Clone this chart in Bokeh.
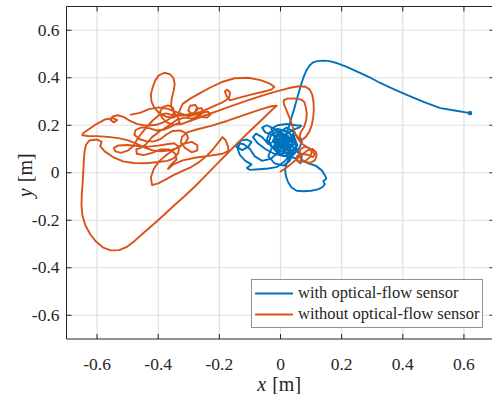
import math

from bokeh.plotting import figure
from bokeh.models import Range1d, Legend, LegendItem, Label
from bokeh.core.properties import value
from bokeh.embed import file_html
from bokeh.resources import INLINE

# ---- data -----------------------------------------------------------------
tick_values = [-0.6, -0.4, -0.2, 0, 0.2, 0.4, 0.6]
tick_labels = ["-0.6", "-0.4", "-0.2", "0", "0.2", "0.4", "0.6"]
axis_limits = [-0.7, 0.7]

series_names = ["with optical-flow sensor", "without optical-flow sensor"]

# trajectory with the optical-flow sensor (starts at the right, then hovers)
with_x = [
    0.620, 0.570, 0.523, 0.470, 0.413, 0.370, 0.326, 0.290, 0.249, 0.215,
    0.184, 0.160, 0.140, 0.120, 0.107, 0.095, 0.086, 0.077, 0.069, 0.061,
    0.053, 0.045, 0.037, 0.030, 0.024,
    0.018, 0.005, -0.010, -0.030, -0.045, -0.035, -0.010, 0.020, 0.045, 0.055,
    0.040, 0.010, -0.020, -0.050, -0.075, -0.090, -0.080, -0.060, -0.040, -0.010,
    0.015, 0.040, 0.060, 0.068, 0.050, 0.020, -0.010, -0.030, -0.020, 0.000,
    0.030, 0.060, 0.070, 0.050, 0.020, -0.005, -0.030, -0.060, -0.085, -0.100,
    -0.120, -0.140, -0.145, -0.125, -0.105, -0.095, -0.110, -0.130,
    -0.140, -0.133, -0.115, -0.095, -0.110, -0.100, -0.070, -0.040, -0.010, 0.010,
    0.030, 0.050, 0.065, 0.070, 0.060, 0.030, 0.000, -0.025, -0.050, -0.060,
    -0.045, -0.020, 0.010, 0.035, 0.045, 0.030, 0.010, -0.020, -0.040, -0.030,
    -0.010, 0.020, 0.040, 0.060, 0.072,
    0.090, 0.115, 0.135, 0.145, 0.150, 0.140, 0.145, 0.138, 0.122, 0.100,
    0.075, 0.053, 0.036, 0.025, 0.018, 0.015, 0.020,
    0.035, 0.020, -0.005, -0.025, -0.010, 0.020, 0.045, 0.030, 0.005, -0.015,
    0.000, 0.025, 0.040, 0.025, 0.000, -0.020, 0.005, 0.030, 0.050, 0.040,
    0.010, -0.005, 0.010, 0.030, 0.020, 0.005,
    0.015, 0.035, 0.052, 0.048, 0.030, 0.012, -0.008, -0.020, -0.012, 0.008,
    0.028, 0.040, 0.036, 0.018, -0.002, -0.018, -0.010, 0.010, 0.028, 0.022,
    0.004, -0.004, 0.012, 0.032, 0.044, 0.030, 0.008, -0.015, -0.032, -0.038,
    -0.025, -0.005, 0.020, 0.042, 0.055,
]
with_y = [
    0.251, 0.262, 0.272, 0.297, 0.328, 0.352, 0.378, 0.403, 0.427, 0.447,
    0.462, 0.470, 0.472, 0.470, 0.465, 0.452, 0.434, 0.408, 0.378, 0.343,
    0.307, 0.270, 0.237, 0.205, 0.180,
    0.150, 0.120, 0.100, 0.110, 0.140, 0.170, 0.185, 0.175, 0.150, 0.115,
    0.085, 0.070, 0.080, 0.100, 0.125, 0.150, 0.165, 0.150, 0.120, 0.140,
    0.160, 0.180, 0.190, 0.198, 0.200, 0.205, 0.200, 0.185, 0.150, 0.110,
    0.095, 0.100, 0.130, 0.160, 0.140, 0.090, 0.060, 0.050, 0.070, 0.100,
    0.120, 0.125, 0.110, 0.095, 0.110, 0.130, 0.140, 0.135,
    0.100, 0.075, 0.050, 0.035, 0.020, 0.012, 0.015, 0.018, 0.025, 0.045,
    0.070, 0.060, 0.040, 0.070, 0.090, 0.120, 0.150, 0.160, 0.170, 0.190,
    0.200, 0.185, 0.160, 0.130, 0.095, 0.050, 0.030, 0.040, 0.070, 0.100,
    0.130, 0.120, 0.110, 0.080, 0.050,
    0.040, 0.030, 0.010, -0.010, -0.025, -0.035, -0.048, -0.060, -0.070, -0.076,
    -0.078, -0.076, -0.062, -0.040, -0.015, 0.010, 0.040,
    0.075, 0.100, 0.110, 0.135, 0.165, 0.190, 0.170, 0.140, 0.130, 0.105,
    0.080, 0.085, 0.120, 0.155, 0.170, 0.150, 0.125, 0.105, 0.125, 0.150,
    0.140, 0.115, 0.095, 0.110, 0.130, 0.110,
    0.098, 0.088, 0.100, 0.128, 0.142, 0.150, 0.142, 0.122, 0.100, 0.088,
    0.098, 0.118, 0.140, 0.158, 0.160, 0.145, 0.125, 0.118, 0.128, 0.148,
    0.145, 0.128, 0.110, 0.112, 0.135, 0.165, 0.178, 0.172, 0.155, 0.130,
    0.105, 0.078, 0.068, 0.075, 0.095,
]

# trajectory without the optical-flow sensor (drifts off to the left)
without_x = [
    # knot next to the origin
    0.000, 0.020, 0.042, 0.065, 0.088, 0.105, 0.116, 0.118, 0.112, 0.098,
    0.080, 0.066, 0.060, 0.066, 0.080, 0.095, 0.102, 0.098, 0.084, 0.066,
    0.052, 0.054, 0.068, 0.088, 0.106, 0.112, 0.102, 0.084, 0.068,
    # narrow loop
    0.056, 0.046, 0.038, 0.030, 0.020, 0.011, 0.010, 0.022, 0.045, 0.066,
    0.078, 0.083, 0.086, 0.084, 0.077, 0.066, 0.062, 0.070,
    # wider loop on the right
    0.082, 0.094, 0.102, 0.107, 0.109, 0.108, 0.104, 0.096, 0.082, 0.060,
    0.032, 0.000, -0.030, -0.060,
    # stroke back into the tangle
    -0.100, -0.150, -0.200, -0.250, -0.292, -0.325, -0.350, -0.372, -0.388, -0.394,
    -0.386, -0.368, -0.352, -0.348, -0.356, -0.376, -0.405, -0.438, -0.468, -0.492,
    -0.512, -0.532, -0.550, -0.556, -0.545, -0.534, -0.548, -0.575, -0.602, -0.628,
    -0.646, -0.648, -0.630, -0.600, -0.565, -0.530, -0.498, -0.470, -0.444, -0.418,
    -0.390, -0.360, -0.335, -0.312, -0.302, -0.308, -0.328, -0.352, -0.372, -0.390,
    -0.412, -0.438, -0.462, -0.478, -0.474, -0.455, -0.430, -0.405, -0.380, -0.355,
    -0.330,
    # tall loop at the top
    -0.335, -0.350, -0.358, -0.356, -0.350, -0.346, -0.350, -0.362, -0.380, -0.398,
    -0.410, -0.418, -0.424, -0.422, -0.412, -0.396, -0.374, -0.350, -0.334, -0.328,
    -0.320,
    # upper stroke out to the right and back
    -0.295, -0.262, -0.228, -0.192, -0.150, -0.105, -0.065, -0.035, -0.020, -0.030,
    -0.060, -0.100, -0.140, -0.165, -0.176, -0.182, -0.174, -0.165, -0.168, -0.190,
    -0.225, -0.262, -0.290, -0.302, -0.296, -0.278, -0.270, -0.284, -0.312, -0.345,
    -0.375, -0.398, -0.418, -0.438, -0.456, -0.470, -0.482, -0.500, -0.522, -0.540,
    -0.545, -0.530, -0.500, -0.466, -0.432, -0.400, -0.372, -0.348, -0.332, -0.334,
    -0.348, -0.370, -0.400, -0.440, -0.480, -0.515, -0.548, -0.575, -0.590, -0.585,
    -0.600, -0.625,
    # big loop down the left side
    -0.636, -0.641, -0.643, -0.645, -0.647, -0.650, -0.651, -0.648, -0.638, -0.622,
    -0.602, -0.580, -0.555, -0.528, -0.502, -0.478, -0.452, -0.420, -0.385, -0.350,
    -0.315, -0.280, -0.245, -0.210, -0.175, -0.140, -0.100, -0.062, -0.030, -0.012,
    # lower parallel stroke back to the left
    -0.030, -0.070, -0.120, -0.175, -0.230, -0.275, -0.305, -0.322, -0.326, -0.312,
    -0.290, -0.272, -0.272, -0.290, -0.318, -0.345, -0.372, -0.396, -0.414, -0.424,
    -0.420, -0.400,
    # second diagonal with a kink
    -0.375, -0.350, -0.320, -0.292, -0.265, -0.242, -0.220, -0.202, -0.190, -0.180,
    -0.172, -0.170, -0.190, -0.230, -0.275, -0.320, -0.352, -0.368,
    # last loops
    -0.360, -0.340, -0.344, -0.364, -0.392, -0.420, -0.448, -0.470, -0.472, -0.455,
    -0.440, -0.420, -0.395, -0.370, -0.340, -0.315, -0.290, -0.268, -0.252, -0.258,
    -0.275, -0.280, -0.262, -0.240, -0.228, -0.238, -0.262, -0.300, -0.340, -0.370,
    -0.400, -0.430, -0.460, -0.490,
]
without_y = [
    0.005, 0.022, 0.045, 0.072, 0.094, 0.100, 0.088, 0.070, 0.052, 0.042,
    0.045, 0.060, 0.080, 0.100, 0.110, 0.104, 0.088, 0.068, 0.052, 0.044,
    0.052, 0.070, 0.080, 0.076, 0.066, 0.078, 0.096, 0.110, 0.124,
    0.145, 0.172, 0.200, 0.230, 0.262, 0.290, 0.305, 0.312, 0.313, 0.309,
    0.298, 0.275, 0.248, 0.220, 0.193, 0.170, 0.152, 0.138,
    0.150, 0.172, 0.200, 0.232, 0.265, 0.298, 0.328, 0.350, 0.362, 0.364,
    0.358, 0.347, 0.336, 0.325,
    0.308, 0.286, 0.263, 0.240, 0.220, 0.205, 0.202, 0.212, 0.232, 0.256,
    0.276, 0.284, 0.274, 0.254, 0.234, 0.216, 0.202, 0.198, 0.205, 0.218,
    0.234, 0.242, 0.236, 0.222, 0.212, 0.222, 0.230, 0.224, 0.205, 0.182,
    0.166, 0.158, 0.155, 0.154, 0.151, 0.146, 0.136, 0.122, 0.106, 0.094,
    0.090, 0.094, 0.106, 0.124, 0.146, 0.166, 0.178, 0.176, 0.162, 0.144,
    0.132, 0.132, 0.142, 0.160, 0.180, 0.191, 0.188, 0.178, 0.182, 0.196,
    0.212,
    0.232, 0.255, 0.282, 0.312, 0.342, 0.372, 0.398, 0.415, 0.421, 0.410,
    0.388, 0.360, 0.330, 0.300, 0.272, 0.250, 0.236, 0.232, 0.246, 0.268,
    0.290,
    0.312, 0.336, 0.360, 0.382, 0.398, 0.400, 0.390, 0.375, 0.362, 0.350,
    0.340, 0.328, 0.314, 0.305, 0.322, 0.342, 0.350, 0.338, 0.315, 0.296,
    0.276, 0.256, 0.248, 0.262, 0.282, 0.285, 0.268, 0.252, 0.242, 0.240,
    0.250, 0.242, 0.220, 0.192, 0.164, 0.138, 0.112, 0.093, 0.084, 0.090,
    0.105, 0.115, 0.117, 0.112, 0.110, 0.114, 0.120, 0.124, 0.108, 0.084,
    0.062, 0.050, 0.045, 0.040, 0.041, 0.048, 0.066, 0.090, 0.112, 0.130,
    0.140, 0.136,
    0.118, 0.090, 0.055, 0.010, -0.040, -0.090, -0.135, -0.180, -0.222, -0.260,
    -0.292, -0.315, -0.327, -0.326, -0.312, -0.288, -0.258, -0.222, -0.182, -0.140,
    -0.100, -0.058, -0.012, 0.034, 0.080, 0.126, 0.176, 0.222, 0.262, 0.282,
    0.280, 0.265, 0.243, 0.218, 0.196, 0.182, 0.170, 0.152, 0.128, 0.104,
    0.086, 0.094, 0.116, 0.130, 0.122, 0.100, 0.076, 0.050, 0.018, -0.020,
    -0.052, -0.045,
    -0.028, -0.010, 0.008, 0.024, 0.046, 0.070, 0.100, 0.130, 0.150, 0.138,
    0.112, 0.092, 0.080, 0.072, 0.064, 0.052, 0.034, 0.016,
    0.032, 0.056, 0.080, 0.098, 0.098, 0.084, 0.074, 0.080, 0.098, 0.106,
    0.120, 0.150, 0.175, 0.195, 0.222, 0.232, 0.228, 0.238, 0.255, 0.272,
    0.270, 0.250, 0.236, 0.232, 0.246, 0.258, 0.250, 0.238, 0.255, 0.270,
    0.275, 0.268, 0.252, 0.245,
]

# ---- layout -----------------------------------------------------------------
W, H = 492, 394
# pixel edges of the axes box inside the canvas (the right edge runs just
# past the canvas, so the right border itself is not visible)
BOX_L, BOX_R, BOX_T, BOX_B = 66.0, 494.0, 6.0, 338.5

lo, hi = axis_limits
sx = (BOX_R - BOX_L) / (hi - lo)      # pixels per metre, horizontal
sy = (BOX_B - BOX_T) / (hi - lo)      # pixels per metre, vertical
x_range = Range1d(lo - BOX_L / sx, lo + (W - BOX_L) / sx)
y_range = Range1d(hi - (H - BOX_T) / sy, hi + BOX_T / sy)

BLUE = "#0072BD"
ORANGE = "#D95319"
AXIS = "#262626"
GRID = "#dfdfdf"
FONT = "'Liberation Serif'"

p = figure(width=W, height=H, output_backend="svg", toolbar_location=None,
           x_range=x_range, y_range=y_range,
           x_axis_location=None, y_axis_location=None,
           min_border=0, min_border_left=0, min_border_right=0,
           min_border_top=0, min_border_bottom=0)
p.outline_line_color = None
p.background_fill_color = "white"
p.border_fill_color = "white"
p.grid.visible = False

n = len(tick_values)
lows = [lo] * n
highs = [hi] * n

# grid lines
p.segment(x0=tick_values, y0=lows, x1=tick_values, y1=highs,
          line_color=GRID, line_width=1.2)
p.segment(x0=lows, y0=tick_values, x1=highs, y1=tick_values,
          line_color=GRID, line_width=1.2)

# axes box
p.segment(x0=[lo, lo, lo, hi], y0=[lo, lo, hi, lo],
          x1=[lo, hi, hi, hi], y1=[hi, lo, hi, hi],
          line_color=AXIS, line_width=1)

# inward tick marks on all four sides
tick_len = 5
p.ray(x=tick_values, y=lows, length=tick_len, length_units="screen",
      angle=90, angle_units="deg", line_color=AXIS, line_width=1)
p.ray(x=tick_values, y=highs, length=tick_len, length_units="screen",
      angle=-90, angle_units="deg", line_color=AXIS, line_width=1)
p.ray(x=lows, y=tick_values, length=tick_len, length_units="screen",
      angle=0, angle_units="deg", line_color=AXIS, line_width=1)
p.ray(x=highs, y=tick_values, length=tick_len, length_units="screen",
      angle=180, angle_units="deg", line_color=AXIS, line_width=1)

# tick labels
p.text(x=tick_values, y=lows, text=tick_labels, text_align="center",
       text_baseline="alphabetic", y_offset=25,
       text_font=value(FONT), text_font_size="17.5px", text_color=AXIS)
p.text(x=lows, y=tick_values, text=tick_labels, text_align="right",
       text_baseline="middle", x_offset=-7,
       text_font=value(FONT), text_font_size="17.5px", text_color=AXIS)

# trajectories
r_with = p.line(with_x, with_y, line_color=BLUE, line_width=1.9,
                line_join="round", line_cap="round")
p.scatter([with_x[0]], [with_y[0]], marker="square", size=3,
          fill_color=BLUE, line_color=BLUE)
r_without = p.line(without_x, without_y, line_color=ORANGE, line_width=1.9,
                   line_join="round", line_cap="round")

legend = Legend(items=[LegendItem(label=series_names[0], renderers=[r_with]),
                       LegendItem(label=series_names[1], renderers=[r_without])],
                location=(251, H - 328))
legend.label_text_font = FONT
legend.label_text_font_size = "16.5px"
legend.label_text_color = AXIS
legend.label_height = 18
legend.glyph_height = 18
legend.glyph_width = 38
legend.label_standoff = 5
legend.spacing = 1
legend.padding = 3
legend.margin = 0
legend.border_line_color = AXIS
legend.border_line_width = 1
legend.background_fill_color = "white"
legend.background_fill_alpha = 1
p.add_layout(legend)

# axis titles: italic variable name followed by the unit
label_style = dict(x_units="screen", y_units="screen", text_font=FONT,
                   text_font_size="20px", text_color=AXIS,
                   text_baseline="alphabetic", text_align="left")
p.add_layout(Label(x=256.7, y=H - 383.7, text="x", text_font_style="italic",
                   **label_style))
p.add_layout(Label(x=271.7, y=H - 383.7, text="[m]", **label_style))
p.add_layout(Label(x=24, y=H - 196.7, text="y", text_font_style="italic",
                   angle=90, angle_units="deg", **label_style))
p.add_layout(Label(x=24, y=H - 181.7, text="[m]",
                   angle=90, angle_units="deg", **label_style))

open("out.html", "w").write(file_html(p, INLINE))
